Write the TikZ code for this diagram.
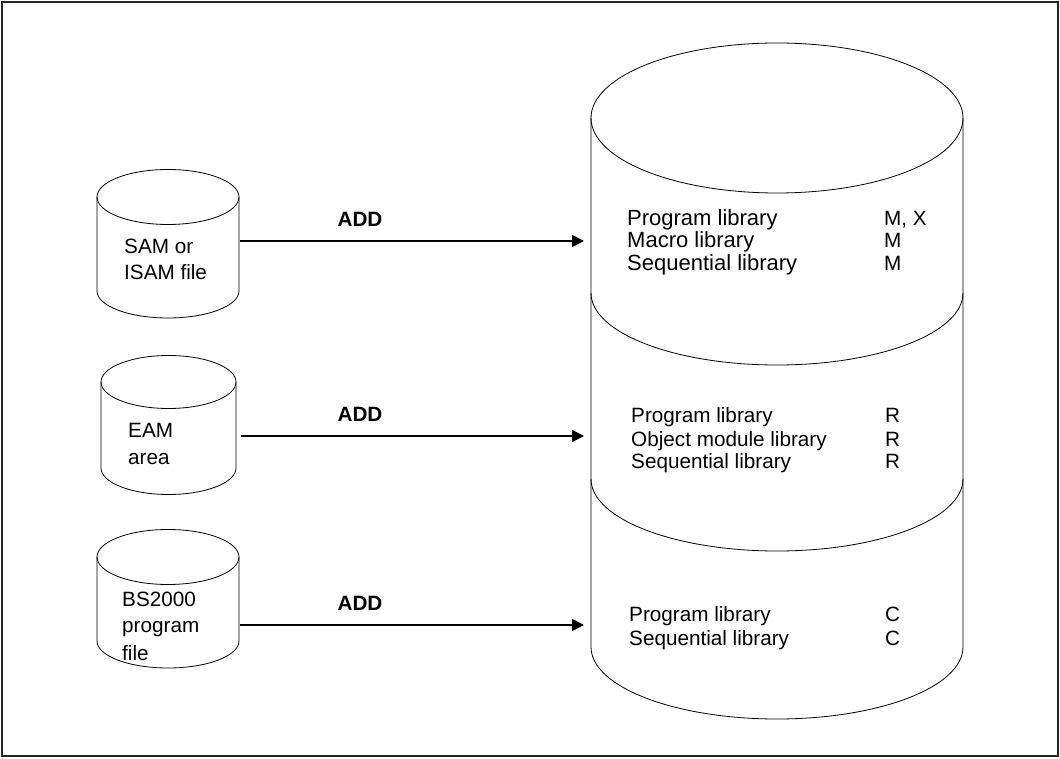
\documentclass[tikz,border=0pt]{standalone}
\usepackage{fontspec}
\setmainfont{Liberation Sans}
\usetikzlibrary{arrows.meta}
\tikzset{
  drumLine/.style={draw=black, line width=0.8pt},
  frameLine/.style={draw=black!85, line width=2.2pt},
  addArrow/.style={line width=1.8pt, -{Triangle[length=12pt,width=12pt]}},
  addLabel/.style={font=\fontsize{20.7}{24}\selectfont\bfseries, inner sep=0pt, anchor=base},
  fileText/.style={font=\fontsize{20.7}{26}\selectfont, inner sep=0pt, anchor=base west},
  libText/.style={font=\fontsize{20.7}{23}\selectfont, inner sep=0pt, anchor=base west},
  libTextBig/.style={libText, font=\fontsize{22}{23}\selectfont}
}

\begin{document}
\begin{tikzpicture}[x=1pt,y=1pt]
  \useasboundingbox (0,0) rectangle (1060,758);
  \draw[frameLine] (2,2) rectangle (1058,756);

  % small drums
  \draw[drumLine] (97,561) -- (97,467) arc[start angle=180,end angle=360,x radius=71,y radius=27] -- (239,561);
  \draw[drumLine] (168,561) ellipse [x radius=71,y radius=27.5];
  \draw[drumLine] (101,376) -- (101,290) arc[start angle=180,end angle=360,x radius=67.5,y radius=26.5] -- (236,376);
  \draw[drumLine] (168.5,376) ellipse [x radius=67.5,y radius=26.5];
  \draw[drumLine] (97,201) -- (97,117) arc[start angle=180,end angle=360,x radius=71,y radius=27] -- (239,201);
  \draw[drumLine] (168,201) ellipse [x radius=71,y radius=27.5];

  % library drum
  \draw[drumLine] (777,640) ellipse [x radius=186,y radius=75];
  \draw[drumLine] (591,640) -- (591,111) arc[start angle=180,end angle=360,x radius=186,y radius=72] -- (963,640);
  \draw[drumLine] (591,465) arc[start angle=180,end angle=360,x radius=186,y radius=72];
  \draw[drumLine] (591,279) arc[start angle=180,end angle=360,x radius=186,y radius=72];

  % file texts
  \node[fileText] (sam1) at (124,504) {SAM or};
  \node[fileText] (sam2) at (124,478) {ISAM file};
  \node[fileText] (eam1) at (128,320) {EAM};
  \node[fileText] (eam2) at (128,293) {area};
  \node[fileText] (bs1) at (122,151) {BS2000};
  \node[fileText] (bs2) at (122,125) {program};
  \node[fileText] (bs3) at (122,98) {file};

  % library texts
  \foreach \txt/\yy/\tp [count=\i] in {Program library/532/{M, X}, Macro library/510/M, Sequential library/487/M} {
    \node[libTextBig] (libA-\i) at (627,\yy) {\txt};
    \node[libText] (typA-\i) at (884,\yy) {\tp};
  }
  \foreach \txt/\yy/\tp [count=\i] in {Program library/335/R, Object module library/311/R, Sequential library/289/R} {
    \node[libText] (libB-\i) at (631,\yy) {\txt};
    \node[libText] (typB-\i) at (885,\yy) {\tp};
  }
  \foreach \txt/\yy/\tp [count=\i] in {Program library/136/C, Sequential library/113/C} {
    \node[libText] (libC-\i) at (629,\yy) {\txt};
    \node[libText] (typC-\i) at (885,\yy) {\tp};
  }

  % ADD arrows
  \coordinate (samOut) at (240,517);
  \coordinate (eamOut) at (241,322);
  \coordinate (bsOut) at (240,133);
  \coordinate (libInA) at (584,517);
  \coordinate (libInB) at (584,322);
  \coordinate (libInC) at (584,133);
  \draw[addArrow] (samOut) -- (libInA);
  \draw[addArrow] (eamOut) -- (libInB);
  \draw[addArrow] (bsOut) -- (libInC);
  \node[addLabel] (addA) at (360,531) {ADD};
  \node[addLabel] (addB) at (360,336) {ADD};
  \node[addLabel] (addC) at (360,147) {ADD};
\end{tikzpicture}
\end{document}
